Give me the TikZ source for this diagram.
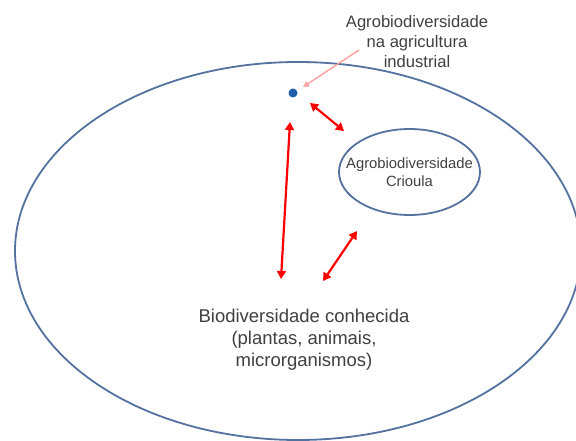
\documentclass[tikz,border=0pt]{standalone}
\usepackage{fontspec}
\setmainfont{Liberation Sans}
\usetikzlibrary{shapes.geometric,arrows.meta}
\definecolor{rimblue}{RGB}{84,114,160}
\definecolor{dotblue}{RGB}{30,95,170}
\definecolor{txtgray}{RGB}{64,64,64}
\definecolor{pinkline}{RGB}{255,160,160}
\tikzset{
  rim/.style={ellipse, draw=rimblue, line width=1.8pt, inner sep=0pt},
  lbl/.style={align=center, text=txtgray, inner sep=0pt},
  dbl/.style={draw=red, line width=2.2pt, {Triangle[length=8pt,width=9pt]}-{Triangle[length=8pt,width=9pt]}},
}
\begin{document}
\begin{tikzpicture}[x=1pt,y=-1pt]
\useasboundingbox[fill=white] (0,0) rectangle (576,441);
\node[rim, minimum width=566pt, minimum height=378pt] (big) at (298,251) {};
\node[rim, minimum width=141pt, minimum height=86pt] (crioula) at (409.5,172) {};
\node[lbl, font=\fontsize{14.8}{18}\selectfont] (crioulatxt) at (crioula.center) {Agrobiodiversidade\\Crioula};
\node[lbl, font=\fontsize{16.6}{20}\selectfont] (ind) at (417,42) {Agrobiodiversidade\\na agricultura\\industrial};
\node[lbl, font=\fontsize{18.5}{22}\selectfont] (bio) at (304,340) {Biodiversidade conhecida\\(plantas, animais,\\microrganismos)};
\node[circle, fill=dotblue, minimum size=9pt, inner sep=0pt] (dot) at (293,93) {};
\coordinate (p1) at (359,50);
\coordinate (p2) at (303,87);
\draw[draw=pinkline, line width=1.4pt, -{Triangle[length=6pt,width=6pt]}] (p1) -- (p2);
\coordinate (a1) at (290,122);
\coordinate (a2) at (281,279);
\draw[dbl] (a1) -- (a2);
\coordinate (b1) at (310,103);
\coordinate (b2) at (344,131);
\draw[dbl] (b1) -- (b2);
\coordinate (c1) at (323,281);
\coordinate (c2) at (357,231);
\draw[dbl] (c1) -- (c2);
\end{tikzpicture}
\end{document}
